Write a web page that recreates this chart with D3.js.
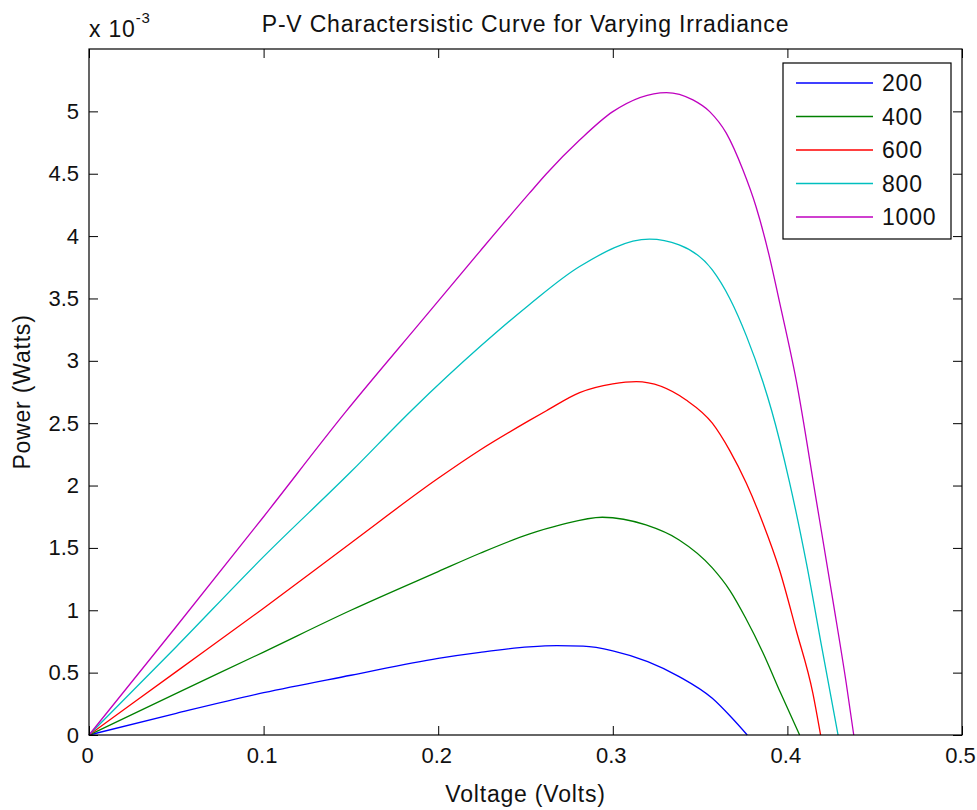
<!DOCTYPE html>
<html>
<head>
<meta charset="utf-8">
<script src="https://cdn.jsdelivr.net/npm/d3@7"></script>
<style>
    body { margin: 0; background: #fff; }
    text { font-family: "Liberation Sans", Arial, sans-serif; fill: #111; letter-spacing: 0.8px; }
    .tick text { letter-spacing: 0; }
</style>
</head>
<body>
<div id="chart"></div>
<script>

// irradiance levels (legend)
var irradiance = ["200", "400", "600", "800", "1000"];

// voltage (V) and power (x 10^-3 W)
var v200 = [0, 0.05, 0.1, 0.15, 0.2, 0.224, 0.252, 0.268, 0.283, 0.300, 0.32, 0.338, 0.357, 0.368, 0.377];
var p200 = [0, 0.174, 0.339, 0.479, 0.615, 0.663, 0.706, 0.716, 0.712, 0.675, 0.588, 0.468, 0.294, 0.14, 0];

var v400 = [0, 0.05, 0.1, 0.15, 0.2, 0.224, 0.252, 0.27, 0.294, 0.319, 0.338, 0.357, 0.367, 0.376, 0.386, 0.396, 0.407];
var p400 = [0, 0.334, 0.665, 1.0, 1.31, 1.457, 1.61, 1.684, 1.746, 1.684, 1.564, 1.34, 1.16, 0.94, 0.66, 0.34, 0];

var v600 = [0, 0.05, 0.1, 0.15, 0.2, 0.224, 0.252, 0.262, 0.281, 0.300, 0.3135, 0.342, 0.357, 0.367, 0.3765, 0.386, 0.3955, 0.405, 0.4146, 0.419];
var p600 = [0, 0.508, 1.016, 1.54, 2.058, 2.285, 2.52, 2.6, 2.745, 2.815, 2.833, 2.686, 2.5, 2.28, 2.018, 1.698, 1.323, 0.842, 0.334, 0];

var v800 = [0, 0.05, 0.1, 0.15, 0.185, 0.224, 0.252, 0.281, 0.321, 0.338, 0.357, 0.367, 0.3765, 0.386, 0.391, 0.401, 0.411, 0.42, 0.429];
var p800 = [0, 0.708, 1.43, 2.11, 2.606, 3.114, 3.448, 3.756, 3.975, 3.93, 3.729, 3.5, 3.2, 2.83, 2.6, 2.04, 1.37, 0.68, 0];

var v1000 = [0, 0.05, 0.1, 0.147, 0.191, 0.224, 0.252, 0.262, 0.281, 0.300, 0.3307, 0.3459, 0.3555, 0.365, 0.3745, 0.382, 0.3897, 0.3955, 0.405, 0.4165, 0.426, 0.4337, 0.438];
var p1000 = [0, 0.87, 1.75, 2.59, 3.328, 3.88, 4.34, 4.5, 4.77, 4.998, 5.151, 5.092, 4.998, 4.825, 4.531, 4.237, 3.836, 3.47, 2.847, 1.885, 1.083, 0.415, 0];

var xTicks = [0, 0.1, 0.2, 0.3, 0.4, 0.5];
var xTickLabels = ["0", "0.1", "0.2", "0.3", "0.4", "0.5"];
var yTicks = [0, 0.5, 1, 1.5, 2, 2.5, 3, 3.5, 4, 4.5, 5];
var yTickLabels = ["0", "0.5", "1", "1.5", "2", "2.5", "3", "3.5", "4", "4.5", "5"];

var colors = ["#0000ff", "#008000", "#ff0000", "#00bfbf", "#bf00bf"];

var series = [
    {name: irradiance[0], v: v200, p: p200},
    {name: irradiance[1], v: v400, p: p400},
    {name: irradiance[2], v: v600, p: p600},
    {name: irradiance[3], v: v800, p: p800},
    {name: irradiance[4], v: v1000, p: p1000}
];

var W = 977, H = 810;
var margin = {top: 49, right: 15, bottom: 75, left: 89};
var width = W - margin.left - margin.right,
    height = H - margin.top - margin.bottom;
var fs = 23;

var svg = d3.select("#chart")
    .append("svg")
    .attr("width", W)
    .attr("height", H);

var g = svg.append("g")
    .attr("transform", "translate(" + margin.left + "," + margin.top + ")");

var x = d3.scaleLinear().domain([0, 0.5]).range([0, width]);
var y = d3.scaleLinear().domain([0, 5.5]).range([height, 0]);

// curves
var line = d3.line()
    .x(function (d) { return x(d[0]); })
    .y(function (d) { return y(d[1]); })
    .curve(d3.curveMonotoneX);

series.forEach(function (s, i) {
    g.append("path")
        .datum(d3.zip(s.v, s.p))
        .attr("d", line)
        .attr("fill", "none")
        .attr("stroke", colors[i])
        .attr("stroke-width", 1.3);
});

// axes, ticks pointing inward on all sides
function styleAxis(sel) {
    sel.select(".domain").remove();
    sel.selectAll("line").attr("stroke", "#000");
    sel.selectAll("text").style("font-size", "22px").attr("fill", "#111");
}

g.append("g")
    .attr("transform", "translate(0," + height + ")")
    .call(d3.axisBottom(x).tickValues(xTicks)
        .tickFormat(function (d, i) { return xTickLabels[i]; })
        .tickSizeInner(-9).tickSizeOuter(0).tickPadding(12))
    .call(styleAxis)
    .selectAll("text").attr("dx", -2);

g.append("g")
    .call(d3.axisTop(x).tickValues(xTicks).tickFormat("")
        .tickSizeInner(-9).tickSizeOuter(0))
    .call(styleAxis);

g.append("g")
    .call(d3.axisLeft(y).tickValues(yTicks)
        .tickFormat(function (d, i) { return yTickLabels[i]; })
        .tickSizeInner(-9).tickSizeOuter(0).tickPadding(10))
    .call(styleAxis);

g.append("g")
    .attr("transform", "translate(" + width + ",0)")
    .call(d3.axisRight(y).tickValues(yTicks).tickFormat("")
        .tickSizeInner(-9).tickSizeOuter(0))
    .call(styleAxis);

g.append("rect")
    .attr("width", width)
    .attr("height", height)
    .attr("fill", "none")
    .attr("stroke", "#000")
    .attr("stroke-width", 1.2);

// exponent label
var expo = svg.append("text")
    .attr("x", margin.left)
    .attr("y", 37)
    .style("font-size", fs + "px")
    .text("x 10");
expo.append("tspan")
    .attr("dy", -14)
    .style("font-size", "15px")
    .text("-3");

// title and axis labels
svg.append("text")
    .attr("x", margin.left + width / 2)
    .attr("y", 32)
    .attr("text-anchor", "middle")
    .style("font-size", fs + "px")
    .text("P-V Charactersistic Curve for Varying Irradiance");

svg.append("text")
    .attr("x", margin.left + width / 2)
    .attr("y", 802)
    .attr("text-anchor", "middle")
    .style("font-size", fs + "px")
    .text("Voltage (Volts)");

svg.append("text")
    .attr("transform", "translate(30," + (margin.top + height / 2) + ") rotate(-90)")
    .attr("text-anchor", "middle")
    .style("font-size", fs + "px")
    .text("Power (Watts)");

// legend
var legend = g.append("g")
    .attr("transform", "translate(" + (width - 179) + ",14)");

legend.append("rect")
    .attr("width", 168)
    .attr("height", 176)
    .attr("fill", "#fff")
    .attr("stroke", "#000")
    .attr("stroke-width", 1.2);

var rowY = d3.scaleLinear().domain([0, 4]).range([20, 154]);

irradiance.forEach(function (name, i) {
    legend.append("line")
        .attr("x1", 13).attr("x2", 90)
        .attr("y1", rowY(i)).attr("y2", rowY(i))
        .attr("stroke", colors[i])
        .attr("stroke-width", 1.3);
    legend.append("text")
        .attr("x", 99)
        .attr("y", rowY(i))
        .attr("dy", "0.35em")
        .style("font-size", fs + "px")
        .text(name);
});

</script>
</body>
</html>
